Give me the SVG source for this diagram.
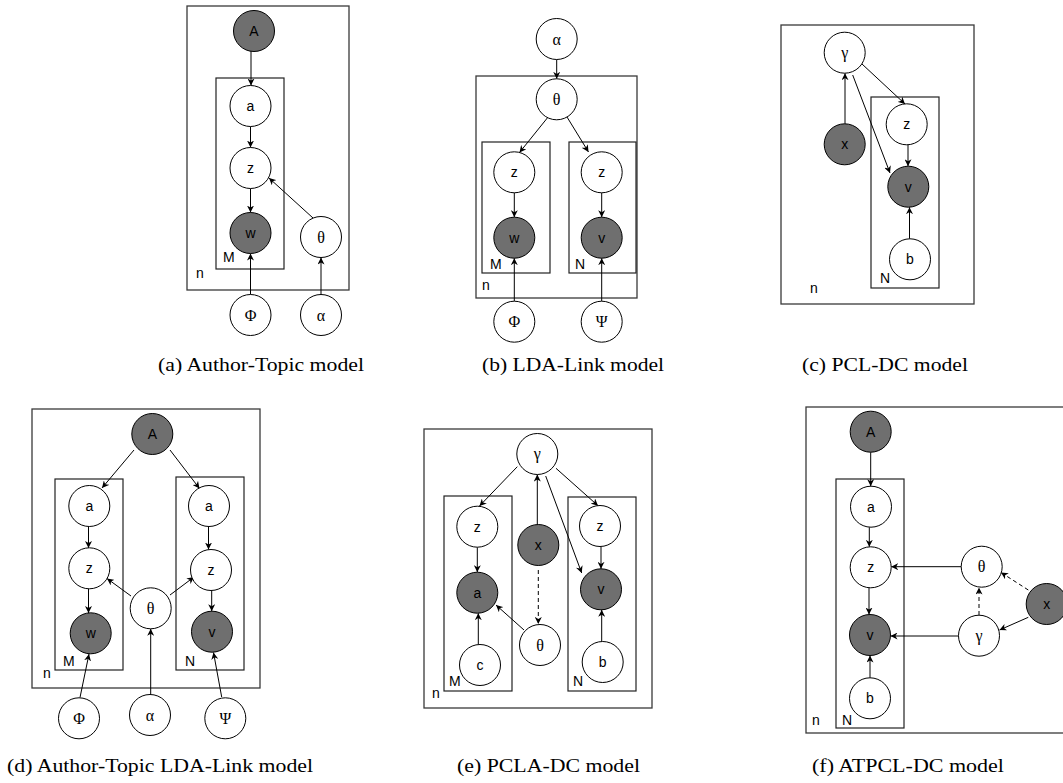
<svg xmlns="http://www.w3.org/2000/svg" width="1063" height="783" viewBox="0 0 1063 783">
<style>
  .bg{fill:#fff}
  .n{fill:#fff;stroke:#000;stroke-width:1}
  .o{fill:#6f6f6f;stroke:#000;stroke-width:1}
  .lbl{font-family:"Liberation Sans",Arial,sans-serif;font-size:14px;text-anchor:middle;fill:#000}
  .gk{font-family:"Liberation Serif","Times New Roman",serif;font-size:16px;text-anchor:middle;fill:#000}
  .pl{font-family:"Liberation Sans",Arial,sans-serif;font-size:14px;fill:#000}
  .cap{font-family:"Liberation Serif","Times New Roman",serif;font-size:18px;fill:#000}
  .outer{fill:none;stroke:#3a3a3a;stroke-width:1.3}
  .inner{fill:none;stroke:#222;stroke-width:1.2}
  .e{fill:none;stroke:#000;stroke-width:1;marker-end:url(#ah)}
  .d{fill:none;stroke:#000;stroke-width:1;stroke-dasharray:4 3;marker-end:url(#ah)}
</style>
<defs>
  <marker id="ah" viewBox="0 0 10 10" refX="10" refY="5" markerWidth="7" markerHeight="7" markerUnits="userSpaceOnUse" orient="auto">
    <path d="M0,0 L10,5 L0,10 L3,5 z" fill="#000"/>
  </marker>
</defs>
<rect class="bg" x="0" y="0" width="1063" height="783"/>

<g id="plates">
  <rect class="outer" x="187" y="6" width="162" height="284"/>
  <rect class="inner" x="216" y="78" width="68" height="191"/>
  <rect class="outer" x="476" y="76" width="161" height="222"/>
  <rect class="inner" x="482" y="142" width="68" height="131"/>
  <rect class="inner" x="569" y="142" width="67" height="131"/>
  <rect class="outer" x="781" y="25" width="193" height="279"/>
  <rect class="inner" x="871" y="97" width="68" height="191"/>
  <rect class="outer" x="32" y="409" width="228" height="279"/>
  <rect class="inner" x="55" y="479" width="68" height="191"/>
  <rect class="inner" x="176" y="477" width="68" height="193"/>
  <rect class="outer" x="424" y="429" width="228" height="279"/>
  <rect class="inner" x="444" y="496" width="68" height="195"/>
  <rect class="inner" x="568" y="497" width="68" height="194"/>
  <rect class="outer" x="806" y="407" width="300" height="326"/>
  <rect class="inner" x="836" y="479" width="68" height="249"/>
  <text class="pl" x="223" y="262">M</text>
  <text class="pl" x="196" y="278">n</text>
  <text class="pl" x="490" y="269">M</text>
  <text class="pl" x="575" y="269">N</text>
  <text class="pl" x="482" y="290">n</text>
  <text class="pl" x="880" y="283">N</text>
  <text class="pl" x="810" y="293">n</text>
  <text class="pl" x="63" y="666">M</text>
  <text class="pl" x="185" y="666">N</text>
  <text class="pl" x="43" y="678">n</text>
  <text class="pl" x="449" y="686">M</text>
  <text class="pl" x="573" y="686">N</text>
  <text class="pl" x="432" y="698">n</text>
  <text class="pl" x="812" y="725">n</text>
  <text class="pl" x="842" y="725">N</text>
</g>

<g id="connectors">
  <!-- (a) -->
  <line class="e" x1="251" y1="51" x2="251" y2="85.5"/>
  <line class="e" x1="250.5" y1="126.5" x2="250.5" y2="147.5"/>
  <line class="e" x1="250.5" y1="188.5" x2="250.5" y2="212.5"/>
  <line class="e" x1="313" y1="218" x2="269" y2="178"/>
  <line class="e" x1="250.5" y1="294.5" x2="250.5" y2="253.5"/>
  <line class="e" x1="321" y1="294.5" x2="321" y2="257.5"/>
  <!-- (b) -->
  <line class="e" x1="556.7" y1="59.5" x2="556.7" y2="78.8"/>
  <line class="e" x1="547.3" y1="118" x2="519.5" y2="152.5"/>
  <line class="e" x1="567" y1="117" x2="588.5" y2="152"/>
  <line class="e" x1="514.3" y1="192.8" x2="514.3" y2="217.2"/>
  <line class="e" x1="601.7" y1="192.8" x2="601.7" y2="217.2"/>
  <line class="e" x1="514.3" y1="301.2" x2="514.3" y2="258.2"/>
  <line class="e" x1="601.7" y1="301.2" x2="601.7" y2="258.2"/>
  <!-- (c) -->
  <line class="e" x1="845" y1="123.8" x2="845" y2="73.2"/>
  <line class="e" x1="862" y1="64" x2="905" y2="104"/>
  <line class="e" x1="852.7" y1="75" x2="890" y2="173"/>
  <line class="e" x1="908" y1="144.8" x2="908" y2="166.2"/>
  <line class="e" x1="909.5" y1="238.8" x2="909.5" y2="207.2"/>
  <!-- (d) -->
  <line class="e" x1="134" y1="450" x2="102" y2="488"/>
  <line class="e" x1="170" y1="450" x2="199.5" y2="488.5"/>
  <line class="e" x1="88.5" y1="526.5" x2="88.5" y2="548"/>
  <line class="e" x1="88.5" y1="589" x2="88.5" y2="613"/>
  <line class="e" x1="208.5" y1="526.5" x2="208.5" y2="549.5"/>
  <line class="e" x1="211.7" y1="590.5" x2="211.7" y2="611.2"/>
  <line class="e" x1="131" y1="596" x2="107" y2="578.5"/>
  <line class="e" x1="170" y1="595" x2="194" y2="577"/>
  <line class="e" x1="150.7" y1="694.5" x2="150.7" y2="628.8"/>
  <line class="e" x1="80" y1="697.5" x2="89" y2="654"/>
  <line class="e" x1="221.7" y1="697" x2="213.5" y2="652.5"/>
  <!-- (e) -->
  <line class="e" x1="517.3" y1="466.7" x2="479.5" y2="506"/>
  <line class="e" x1="556" y1="468.3" x2="598" y2="505.7"/>
  <line class="e" x1="545.7" y1="476" x2="581.7" y2="573"/>
  <line class="e" x1="537.3" y1="524.5" x2="537.3" y2="474.5"/>
  <line class="d" x1="538.3" y1="570" x2="538.3" y2="624"/>
  <line class="e" x1="524" y1="630" x2="496" y2="605"/>
  <line class="e" x1="477.3" y1="547.2" x2="477.3" y2="572.2"/>
  <line class="e" x1="478.3" y1="644.5" x2="478.3" y2="613.2"/>
  <line class="e" x1="601" y1="546.5" x2="601" y2="568.8"/>
  <line class="e" x1="601.7" y1="641.5" x2="601.7" y2="609.8"/>
  <!-- (f) -->
  <line class="e" x1="870.7" y1="452.2" x2="870.7" y2="486.2"/>
  <line class="e" x1="869.3" y1="527.2" x2="869.3" y2="546.8"/>
  <line class="e" x1="869" y1="587.8" x2="869" y2="614.5"/>
  <line class="e" x1="870" y1="677.8" x2="870" y2="655.5"/>
  <line class="e" x1="961.2" y1="566.7" x2="891.2" y2="566.7"/>
  <line class="e" x1="958.5" y1="636" x2="890.5" y2="636"/>
  <line class="d" x1="979" y1="615" x2="979" y2="587.5"/>
  <line class="d" x1="1028.3" y1="590" x2="1001" y2="572.5"/>
  <line class="e" x1="1028.3" y1="617.3" x2="999.5" y2="630"/>
</g>

<!-- (a) nodes -->
<g id="a-A"><circle class="o" cx="254" cy="31" r="20.5"/><text class="lbl" x="254" y="36">A</text></g>
<g id="a-a"><circle class="n" cx="250.5" cy="106" r="20.5"/><text class="lbl" x="250.5" y="111">a</text></g>
<g id="a-z"><circle class="n" cx="250.5" cy="168" r="20.5"/><text class="lbl" x="250.5" y="173">z</text></g>
<g id="a-w"><circle class="o" cx="250.5" cy="233" r="20.5"/><text class="lbl" x="250.5" y="238">w</text></g>
<g id="a-theta"><circle class="n" cx="321" cy="237" r="20.5"/><text class="gk" x="321" y="242.5">θ</text></g>
<g id="a-Phi"><circle class="n" cx="250.5" cy="315" r="20.5"/><text class="gk" x="250.5" y="320.5">Φ</text></g>
<g id="a-alpha"><circle class="n" cx="321" cy="315" r="20.5"/><text class="gk" x="321" y="320.5">α</text></g>

<!-- (b) nodes -->
<g id="b-alpha"><circle class="n" cx="556.7" cy="39" r="20.5"/><text class="gk" x="556.7" y="44.5">α</text></g>
<g id="b-theta"><circle class="n" cx="556.7" cy="99.3" r="20.5"/><text class="gk" x="556.7" y="104.8">θ</text></g>
<g id="b-z1"><circle class="n" cx="514.3" cy="172.3" r="20.5"/><text class="lbl" x="514.3" y="177.3">z</text></g>
<g id="b-w"><circle class="o" cx="514.3" cy="237.7" r="20.5"/><text class="lbl" x="514.3" y="242.7">w</text></g>
<g id="b-z2"><circle class="n" cx="601.7" cy="172.3" r="20.5"/><text class="lbl" x="601.7" y="177.3">z</text></g>
<g id="b-v"><circle class="o" cx="601.7" cy="237.7" r="20.5"/><text class="lbl" x="601.7" y="242.7">v</text></g>
<g id="b-Phi"><circle class="n" cx="514.3" cy="321.7" r="20.5"/><text class="gk" x="514.3" y="327.2">Φ</text></g>
<g id="b-Psi"><circle class="n" cx="601.7" cy="321.7" r="20.5"/><text class="gk" x="601.7" y="327.2">Ψ</text></g>

<!-- (c) nodes -->
<g id="c-gamma"><circle class="n" cx="844.7" cy="52.7" r="20.5"/><text class="gk" x="844.7" y="57.5">γ</text></g>
<g id="c-x"><circle class="o" cx="844.7" cy="144.3" r="20.5"/><text class="lbl" x="844.7" y="149.3">x</text></g>
<g id="c-z"><circle class="n" cx="906.7" cy="124.3" r="20.5"/><text class="lbl" x="906.7" y="129.3">z</text></g>
<g id="c-v"><circle class="o" cx="908.3" cy="186.7" r="20.5"/><text class="lbl" x="908.3" y="191.7">v</text></g>
<g id="c-b"><circle class="n" cx="910" cy="259.3" r="20.5"/><text class="lbl" x="910" y="264.3">b</text></g>

<!-- (d) nodes -->
<g id="d-A"><circle class="o" cx="152.3" cy="434" r="20.5"/><text class="lbl" x="152.3" y="439">A</text></g>
<g id="d-a1"><circle class="n" cx="89.3" cy="506" r="20.5"/><text class="lbl" x="89.3" y="511">a</text></g>
<g id="d-z1"><circle class="n" cx="89.3" cy="568.3" r="20.5"/><text class="lbl" x="89.3" y="573.3">z</text></g>
<g id="d-w"><circle class="o" cx="90.7" cy="633.3" r="20.5"/><text class="lbl" x="90.7" y="638.3">w</text></g>
<g id="d-a2"><circle class="n" cx="209" cy="506" r="20.5"/><text class="lbl" x="209" y="511">a</text></g>
<g id="d-z2"><circle class="n" cx="211" cy="570" r="20.5"/><text class="lbl" x="211" y="575">z</text></g>
<g id="d-v"><circle class="o" cx="212" cy="631.7" r="20.5"/><text class="lbl" x="212" y="636.7">v</text></g>
<g id="d-theta"><circle class="n" cx="150.7" cy="608.3" r="20.5"/><text class="gk" x="150.7" y="613.8">θ</text></g>
<g id="d-Phi"><circle class="n" cx="79" cy="718.3" r="20.5"/><text class="gk" x="79" y="723.8">Φ</text></g>
<g id="d-alpha"><circle class="n" cx="150" cy="715" r="20.5"/><text class="gk" x="150" y="720.5">α</text></g>
<g id="d-Psi"><circle class="n" cx="225.3" cy="718.3" r="20.5"/><text class="gk" x="225.3" y="723.8">Ψ</text></g>

<!-- (e) nodes -->
<g id="e-gamma"><circle class="n" cx="537.3" cy="454" r="20.5"/><text class="gk" x="537.3" y="459">γ</text></g>
<g id="e-z1"><circle class="n" cx="477.3" cy="526.7" r="20.5"/><text class="lbl" x="477.3" y="531.7">z</text></g>
<g id="e-a"><circle class="o" cx="477.3" cy="592.7" r="20.5"/><text class="lbl" x="477.3" y="597.7">a</text></g>
<g id="e-c"><circle class="n" cx="480" cy="665" r="20.5"/><text class="lbl" x="480" y="670">c</text></g>
<g id="e-x"><circle class="o" cx="538.3" cy="545" r="20.5"/><text class="lbl" x="538.3" y="550">x</text></g>
<g id="e-theta"><circle class="n" cx="540" cy="645" r="20.5"/><text class="gk" x="540" y="650.5">θ</text></g>
<g id="e-z2"><circle class="n" cx="600" cy="526" r="20.5"/><text class="lbl" x="600" y="531">z</text></g>
<g id="e-v"><circle class="o" cx="601" cy="589.3" r="20.5"/><text class="lbl" x="601" y="594.3">v</text></g>
<g id="e-b"><circle class="n" cx="602.7" cy="662" r="20.5"/><text class="lbl" x="602.7" y="667">b</text></g>

<!-- (f) nodes -->
<g id="f-A"><circle class="o" cx="870.7" cy="431.7" r="20.5"/><text class="lbl" x="870.7" y="436.7">A</text></g>
<g id="f-a"><circle class="n" cx="871" cy="506.7" r="20.5"/><text class="lbl" x="871" y="511.7">a</text></g>
<g id="f-z"><circle class="n" cx="870.7" cy="567.3" r="20.5"/><text class="lbl" x="870.7" y="572.3">z</text></g>
<g id="f-v"><circle class="o" cx="870" cy="635" r="20.5"/><text class="lbl" x="870" y="640">v</text></g>
<g id="f-b"><circle class="n" cx="870" cy="698.3" r="20.5"/><text class="lbl" x="870" y="703.3">b</text></g>
<g id="f-theta"><circle class="n" cx="981.7" cy="566.7" r="20.5"/><text class="gk" x="981.7" y="572.2">θ</text></g>
<g id="f-gamma"><circle class="n" cx="979" cy="635.7" r="20.5"/><text class="gk" x="979" y="640.5">γ</text></g>
<g id="f-x"><circle class="o" cx="1046.7" cy="604" r="20.5"/><text class="lbl" x="1046.7" y="609">x</text></g>

<g id="captions">
  <text class="cap" x="158" y="371" textLength="206" lengthAdjust="spacingAndGlyphs">(a) Author-Topic model</text>
  <text class="cap" x="482" y="371" textLength="182" lengthAdjust="spacingAndGlyphs">(b) LDA-Link model</text>
  <text class="cap" x="802" y="371" textLength="166" lengthAdjust="spacingAndGlyphs">(c) PCL-DC model</text>
  <text class="cap" x="7" y="772" textLength="306" lengthAdjust="spacingAndGlyphs">(d) Author-Topic LDA-Link model</text>
  <text class="cap" x="457" y="772" textLength="183" lengthAdjust="spacingAndGlyphs">(e) PCLA-DC model</text>
  <text class="cap" x="812" y="772" textLength="192" lengthAdjust="spacingAndGlyphs">(f) ATPCL-DC model</text>
</g>
</svg>
